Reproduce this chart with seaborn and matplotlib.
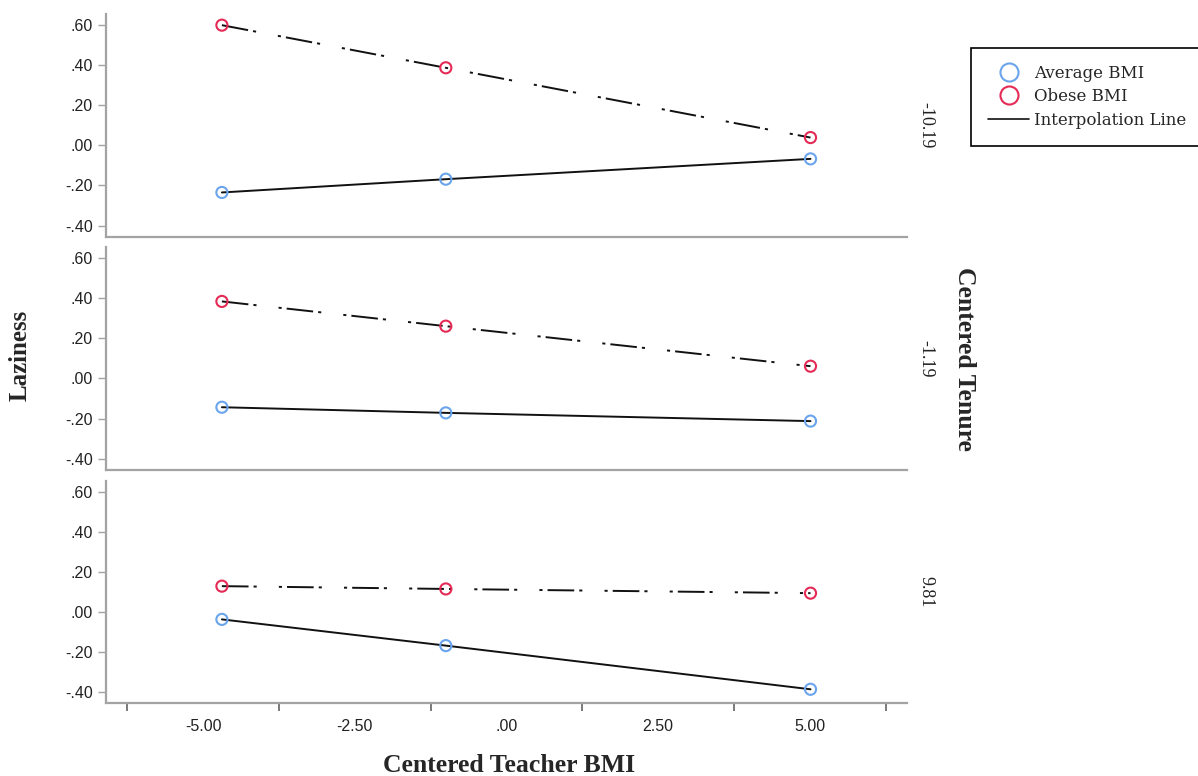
import numpy as np
import pandas as pd
import matplotlib
matplotlib.use("Agg")
import matplotlib.pyplot as plt
from matplotlib.lines import Line2D
from matplotlib.ticker import FuncFormatter
import seaborn as sns

# ===================== Data =====================
tenure_levels = ['-10.19', '-1.19', '9.81']
bmi_points = [-4.69, -1.00, 5.01]
groups = ['Average BMI', 'Obese BMI']

average_low = [-0.235, -0.169, -0.068]
average_mid = [-0.143, -0.171, -0.212]
average_high = [-0.036, -0.167, -0.385]
obese_low = [0.597, 0.385, 0.038]
obese_mid = [0.383, 0.260, 0.061]
obese_high = [0.130, 0.116, 0.095]

y_ticks = [-0.4, -0.2, 0.0, 0.2, 0.4, 0.6]
x_ticks = [-5.0, -2.5, 0.0, 2.5, 5.0]
x_minor = [-6.25, -3.75, -1.25, 1.25, 3.75, 6.25]

rows = []
for tenure, avg, obs in zip(tenure_levels,
                            [average_low, average_mid, average_high],
                            [obese_low, obese_mid, obese_high]):
    for x, a, o in zip(bmi_points, avg, obs):
        rows.append({'Tenure': tenure, 'BMI': x, 'Group': 'Average BMI', 'Laziness': a})
        rows.append({'Tenure': tenure, 'BMI': x, 'Group': 'Obese BMI', 'Laziness': o})
df = pd.DataFrame(rows)

# ===================== Style =====================
sns.set_style("white")
plt.rcParams['font.family'] = ['Liberation Sans Narrow', 'Liberation Sans', 'DejaVu Sans']

palette = {'Average BMI': '#6aa4ec', 'Obese BMI': '#e42a55'}
LW = 1.4
dash_map = {'Average BMI': '', 'Obese BMI': (13.7, 2.6, 1.6, 11.4, 1.6, 2.6)}
spine_gray = '#a3a3a3'
SERIF = ['Liberation Serif', 'DejaVu Serif']


def strip_zero(v, pos=None):
    s = f"{v:.2f}"
    if s.startswith('0.'):
        s = s[1:]
    elif s.startswith('-0.'):
        s = '-' + s[2:]
    return s


W, H = 1198, 776
fig = plt.figure(figsize=(W / 100, H / 100), dpi=100)
panel_px = [(13.5, 236.7), (246.7, 470.0), (481.0, 703.3)]
left_px, right_px = 106, 907

for i, (tenure, (top, bot)) in enumerate(zip(tenure_levels, panel_px)):
    ax = fig.add_axes([left_px / W, 1 - bot / H, (right_px - left_px) / W, (bot - top) / H])
    sub = df[df['Tenure'] == tenure]

    sns.lineplot(data=sub, x='BMI', y='Laziness', style='Group', style_order=groups,
                 dashes=dash_map, color='#111111', linewidth=LW, legend=False,
                 ax=ax, zorder=2)
    sns.scatterplot(data=sub, x='BMI', y='Laziness', hue='Group', hue_order=groups,
                    palette=palette, marker='o', s=64, linewidth=1.5,
                    legend=False, ax=ax, zorder=3)
    pts = ax.collections[-1]
    fc = pts.get_facecolors()
    pts.set_edgecolors(fc)
    pts.set_facecolors('none')

    ax.set_xlim(-6.6, 6.6)
    ax.set_ylim(-0.455, 0.655)
    ax.set_yticks(y_ticks)
    ax.yaxis.set_major_formatter(FuncFormatter(strip_zero))
    ax.tick_params(axis='y', left=True, length=5.5, width=1, color=spine_gray,
                   pad=4, labelsize=11.5, labelcolor='#222222')

    for side in ['top', 'right']:
        ax.spines[side].set_visible(False)
    for side in ['left', 'bottom']:
        ax.spines[side].set_color(spine_gray)
        ax.spines[side].set_linewidth(1.6)

    ax.set_xlabel('')
    ax.set_ylabel('')

    if i < 2:
        ax.set_xticks([])
    else:
        ax.set_xticks(x_ticks)
        ax.xaxis.set_major_formatter(FuncFormatter(strip_zero))
        ax.set_xticks(x_minor, minor=True)
        ax.tick_params(axis='x', which='major', bottom=True, length=0, pad=11,
                       labelsize=11.5, labelcolor='#222222')
        ax.tick_params(axis='x', which='minor', bottom=True, length=6, width=1.1,
                       color='#555555')

    ax.text(1.024, 0.5, tenure, transform=ax.transAxes, rotation=-90,
            ha='center', va='center', fontsize=13, family=SERIF, color='#222222')

# ===================== Titles =====================
fig.text(20 / W, 1 - 355 / H, 'Laziness', rotation=90, ha='center', va='center',
         fontsize=18, fontweight='bold', family=SERIF)
fig.text(509 / W, 1 - 765 / H, 'Centered Teacher BMI', ha='center', va='center',
         fontsize=18.5, fontweight='bold', family=SERIF)
fig.text(965 / W, 1 - 359 / H, 'Centered Tenure', rotation=-90, ha='center', va='center',
         fontsize=18.5, fontweight='bold', family=SERIF)

# ===================== Legend =====================
handles = [
    Line2D([], [], linestyle='none', marker='o', markersize=13, markerfacecolor='none',
           markeredgecolor=palette['Average BMI'], markeredgewidth=1.5),
    Line2D([], [], linestyle='none', marker='o', markersize=13, markerfacecolor='none',
           markeredgecolor=palette['Obese BMI'], markeredgewidth=1.5),
    Line2D([], [], color='#111111', linewidth=1.2),
]
leg = fig.legend(handles, ['Average BMI', 'Obese BMI', 'Interpolation Line'],
                 loc='upper left', bbox_to_anchor=(971 / W, 1 - 48 / H),
                 frameon=True, fancybox=False, edgecolor='black', framealpha=1,
                 borderaxespad=0, prop={'family': ['DejaVu Serif'], 'size': 12},
                 handlelength=2.5, labelspacing=0.4, handletextpad=0.3, borderpad=1.0)
leg.get_frame().set_linewidth(1.2)

fig.savefig('out.png', dpi=100, facecolor='white')
